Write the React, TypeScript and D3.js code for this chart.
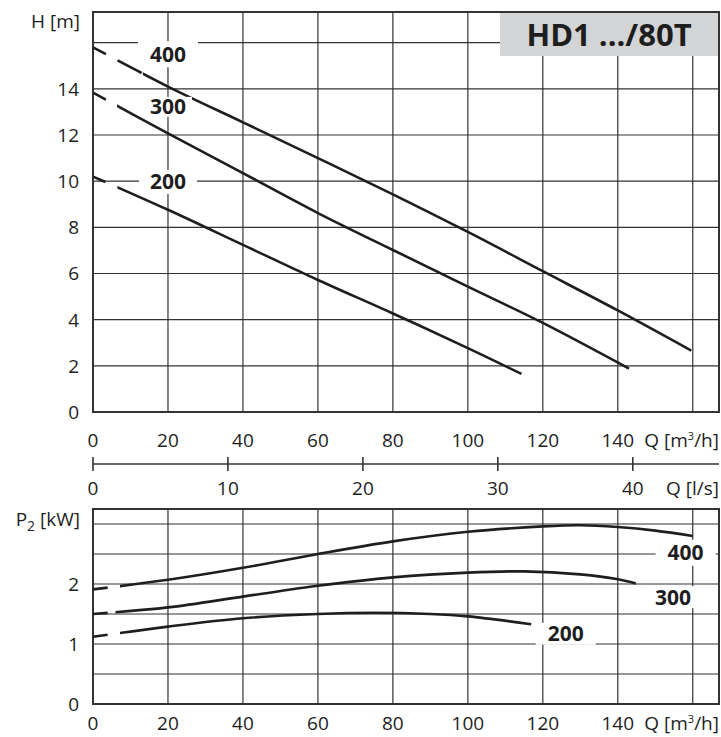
import React from 'react';
import * as d3 from 'd3';

// flow axis
const qTicks = [0, 20, 40, 60, 80, 100, 120, 140];
const qGrid = [20, 40, 60, 80, 100, 120, 140, 160];
const qMax = 167;
const lsTicks = [0, 10, 20, 30, 40];

// head chart
const hTicks = [0, 2, 4, 6, 8, 10, 12, 14];
const hGrid = [2, 4, 6, 8, 10, 12, 14, 16];
const hMax = 17.33;

// power chart
const pTicks = [0, 1, 2];
const pGrid = [0.5, 1, 1.5, 2, 2.5, 3];
const pMax = 3.25;

const headCurves = [
  { name: '400', solidFrom: 13.3, dash: '15 13 27 60', label: [20, 15.5], box: [60, 26],
    pts: [[0, 15.8], [20, 14.1], [40, 12.55], [60, 11.0], [80, 9.43], [100, 7.8], [120, 6.1], [140, 4.4], [159.6, 2.66]] },
  { name: '300', solidFrom: 6.4, dash: '15 60', label: [20, 13.22], box: [48, 20],
    pts: [[0, 13.84], [20, 12.07], [40, 10.35], [60, 8.62], [80, 7.02], [100, 5.43], [120, 3.86], [143, 1.88]] },
  { name: '200', solidFrom: 6.5, dash: '14 60', label: [20, 9.97], box: [58, 24],
    pts: [[0, 10.2], [20, 8.76], [40, 7.24], [60, 5.72], [80, 4.27], [100, 2.77], [114.3, 1.65]] },
];

const powerCurves = [
  { name: '400', solidFrom: 7.2, dash: '15 60', label: [158.1, 2.52], box: [60, 26],
    pts: [[0, 1.91], [20, 2.07], [40, 2.27], [60, 2.5], [80, 2.71], [100, 2.87], [120, 2.96], [130, 2.98], [140, 2.95], [150, 2.89], [160, 2.8]] },
  { name: '300', solidFrom: 6.0, dash: '15 60', label: [154.7, 1.78], box: [60, 22],
    pts: [[0, 1.5], [20, 1.61], [40, 1.79], [60, 1.97], [80, 2.11], [100, 2.19], [115, 2.21], [130, 2.16], [140, 2.08], [144.8, 2.01]] },
  { name: '200', solidFrom: 7.2, dash: '15 60', label: [126.1, 1.17], box: [60, 22],
    pts: [[0, 1.12], [20, 1.29], [40, 1.43], [60, 1.5], [75, 1.52], [90, 1.5], [100, 1.46], [116.9, 1.33]] },
];

const FONT = '"Open Sans", sans-serif';
const INK = '#1e1e1e';
const GRID = '#333';

const x = d3.scaleLinear().domain([0, qMax]).range([93, 719]);
const xLs = d3.scaleLinear().domain([0, qMax / 3.6]).range([93, 719]);
const yH = d3.scaleLinear().domain([0, hMax]).range([412, 12]);
const yP = d3.scaleLinear().domain([0, pMax]).range([704, 509]);

function Chart({ id, y, grid, ticks, curves, yMaxV }) {
  const line = d3.line().x((d) => x(d[0])).y((d) => y(d[1])).curve(d3.curveCatmullRom.alpha(0.5));
  const top = y(yMaxV);
  const bottom = y(0);
  return (
    <g>
      <defs>
        {curves.map((c) => (
          <React.Fragment key={c.name}>
            <clipPath id={`${id}-d-${c.name}`}>
              <rect x={x(0) - 2} y={top} width={x(c.solidFrom) - x(0) + 2} height={bottom - top} />
            </clipPath>
            <clipPath id={`${id}-s-${c.name}`}>
              <rect x={x(c.solidFrom)} y={top} width={x(qMax) - x(c.solidFrom)} height={bottom - top} />
            </clipPath>
          </React.Fragment>
        ))}
      </defs>
      {grid.map((g) => (
        <line key={'h' + g} x1={x(0)} x2={x(qMax)} y1={y(g)} y2={y(g)} stroke={GRID} strokeWidth={1.2} />
      ))}
      {qGrid.map((g) => (
        <line key={'v' + g} x1={x(g)} x2={x(g)} y1={top} y2={bottom} stroke={GRID} strokeWidth={1.2} />
      ))}
      <rect x={x(0)} y={top} width={x(qMax) - x(0)} height={bottom - top} fill="none" stroke={GRID} strokeWidth={2} />
      {ticks.map((t) => (
        <text key={'t' + t} x={79} y={y(t)} dy="0.36em" textAnchor="end" fontFamily={FONT} fontSize={19} fill={INK}>
          {t}
        </text>
      ))}
      {curves.map((c) => (
        <g key={c.name}>
          <path d={line(c.pts)} fill="none" stroke={INK} strokeWidth={2.6} strokeDasharray={c.dash}
            clipPath={`url(#${id}-d-${c.name})`} />
          <path d={line(c.pts)} fill="none" stroke={INK} strokeWidth={2.6}
            clipPath={`url(#${id}-s-${c.name})`} />
        </g>
      ))}
      {curves.map((c) => (
        <g key={'l' + c.name}>
          <rect x={x(c.label[0]) - c.box[0] / 2} y={y(c.label[1]) - c.box[1] / 2} width={c.box[0]} height={c.box[1]} fill="#fff" />
          <text x={x(c.label[0])} y={y(c.label[1])} dy="0.36em" textAnchor="middle" fontFamily={FONT}
            fontWeight="bold" fontSize={21} fill={INK}>
            {c.name}
          </text>
        </g>
      ))}
    </g>
  );
}

export default function App() {
  return (
    <svg width={721} height={737} style={{ position: 'absolute', left: 0, top: 0, background: '#fff' }}>
      <rect width={721} height={737} fill="#fff" />
      <Chart id="h" y={yH} grid={hGrid} ticks={hTicks} curves={headCurves} yMaxV={hMax} />
      <rect x={500} y={13} width={218} height={43} fill="#d3d4d6" />
      <text x={609} y={46} textAnchor="middle" fontFamily={FONT} fontWeight="bold" fontSize={31} fill={INK}>
        HD1 .../80T
      </text>
      <text x={80} y={28} textAnchor="end" fontFamily={FONT} fontSize={19} fill={INK}>H [m]</text>

      {qTicks.map((t) => (
        <text key={'q' + t} x={x(t)} y={440} dy="0.36em" textAnchor="middle" fontFamily={FONT} fontSize={19} fill={INK}>
          {t}
        </text>
      ))}
      <text x={719} y={440} dy="0.36em" textAnchor="end" fontFamily={FONT} fontSize={19} fill={INK}>
        Q [m<tspan dy="-7" fontSize={11}>3</tspan><tspan dy="7">/h]</tspan>
      </text>

      <line x1={xLs(0)} x2={719} y1={464} y2={464} stroke={GRID} strokeWidth={1.6} />
      {lsTicks.map((t) => (
        <g key={'ls' + t}>
          <line x1={xLs(t)} x2={xLs(t)} y1={457} y2={471} stroke={GRID} strokeWidth={1.6} />
          <text x={xLs(t)} y={488} dy="0.36em" textAnchor="middle" fontFamily={FONT} fontSize={19} fill={INK}>
            {t}
          </text>
        </g>
      ))}
      <text x={719} y={488} dy="0.36em" textAnchor="end" fontFamily={FONT} fontSize={19} fill={INK}>Q [l/s]</text>

      <Chart id="p" y={yP} grid={pGrid} ticks={pTicks} curves={powerCurves} yMaxV={pMax} />
      <text x={80} y={526} textAnchor="end" fontFamily={FONT} fontSize={19} fill={INK}>
        P<tspan dy="5" fontSize={14}>2</tspan><tspan dy="-5"> [kW]</tspan>
      </text>
      {qTicks.map((t) => (
        <text key={'q2' + t} x={x(t)} y={723} dy="0.36em" textAnchor="middle" fontFamily={FONT} fontSize={19} fill={INK}>
          {t}
        </text>
      ))}
      <text x={719} y={723} dy="0.36em" textAnchor="end" fontFamily={FONT} fontSize={19} fill={INK}>
        Q [m<tspan dy="-7" fontSize={11}>3</tspan><tspan dy="7">/h]</tspan>
      </text>
    </svg>
  );
}
